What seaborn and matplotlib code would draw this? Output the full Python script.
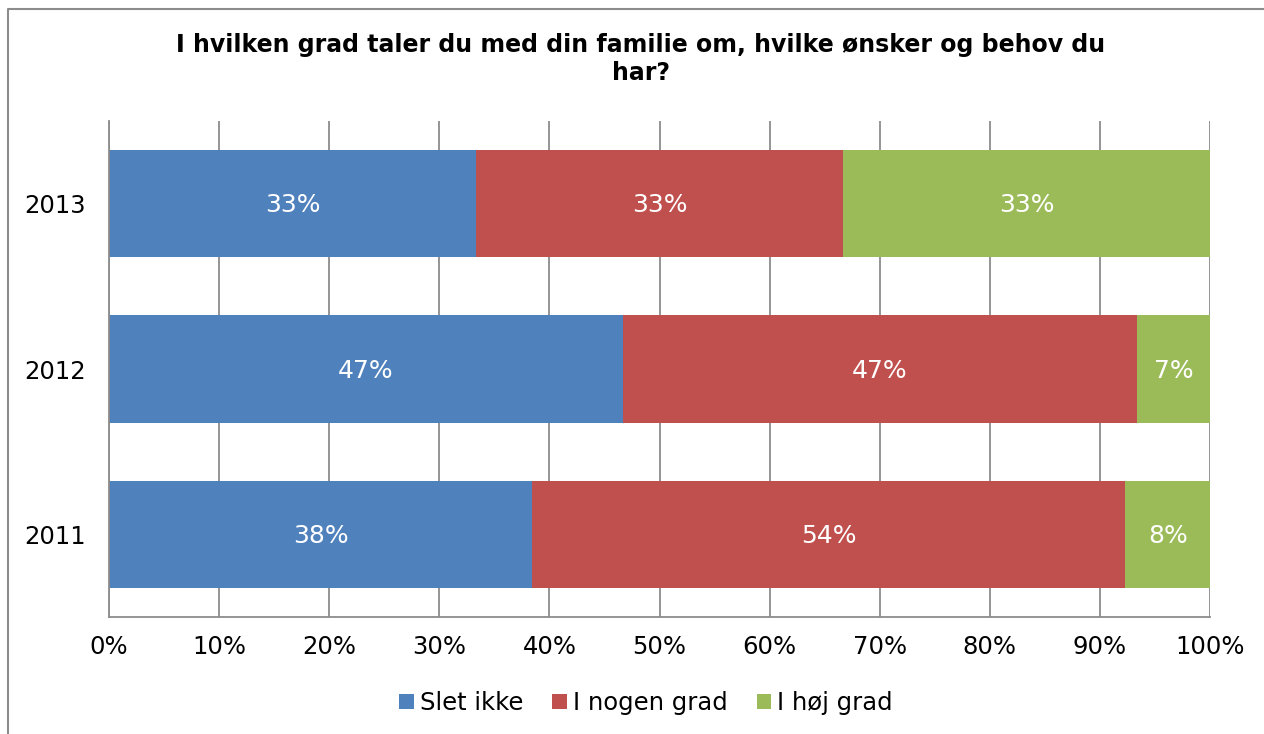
import matplotlib
matplotlib.use("Agg")
import matplotlib.pyplot as plt
from matplotlib.patches import Patch
from matplotlib.lines import Line2D
import seaborn as sns
import pandas as pd
import numpy as np

years = ["2013", "2012", "2011"]
series = ["Slet ikke", "I nogen grad", "I høj grad"]
slet_ikke = [33.33, 46.67, 38.46]
i_nogen_grad = [33.33, 46.67, 53.85]
i_hoej_grad = [33.33, 6.67, 7.69]
labels_slet = ["33%", "47%", "38%"]
labels_nogen = ["33%", "47%", "54%"]
labels_hoej = ["33%", "7%", "8%"]
xticks = [0, 10, 20, 30, 40, 50, 60, 70, 80, 90, 100]
xticklabels = ["0%", "10%", "20%", "30%", "40%", "50%", "60%", "70%", "80%", "90%", "100%"]
title = "I hvilken grad taler du med din familie om, hvilke ønsker og behov du\nhar?"

colors = ["#4F81BD", "#C0504D", "#9BBB59"]

sns.set_theme(style="white")
plt.rcParams['font.family'] = ['DejaVu Sans']
plt.rcParams['text.color'] = 'black'

vals = np.array([slet_ikke, i_nogen_grad, i_hoej_grad])
cum = np.cumsum(vals, axis=0)

fig = plt.figure(figsize=(12.64, 7.34), dpi=100)
ax = fig.add_axes([109/1264, 1-617/734, (1210-109)/1264, (617-121)/734])

# draw from largest cumulative to smallest so stacks appear
for i in [2, 1, 0]:
    df = pd.DataFrame({"year": years, "value": cum[i]})
    sns.barplot(data=df, x="value", y="year", order=years, color=colors[i],
                orient="h", width=0.65, ax=ax, saturation=1, edgecolor="none")

all_labels = [labels_slet, labels_nogen, labels_hoej]
for i in range(3):
    for j in range(3):
        start = cum[i][j] - vals[i][j]
        cx = start + vals[i][j] / 2
        ax.text(cx, j + 0.01, all_labels[i][j], ha="center", va="center",
                color="white", fontsize=18)

ax.set_xlim(0, 100)
ax.set_ylim(2.5, -0.5)
ax.set_xticks(xticks)
ax.set_xticklabels(xticklabels)
ax.set_xlabel("")
ax.set_ylabel("")
ax.tick_params(axis="both", length=0, labelsize=17.5, colors="black")
ax.tick_params(axis="x", pad=13)
ax.tick_params(axis="y", pad=17)
ax.xaxis.grid(True, color="#8C8C8C", linewidth=1.3)
ax.set_axisbelow(True)
for s in ["top", "right"]:
    ax.spines[s].set_visible(False)
for s in ["left", "bottom"]:
    ax.spines[s].set_visible(True)
    ax.spines[s].set_color("#8C8C8C")
    ax.spines[s].set_linewidth(1.3)

fig.text(641/1264, 1-59/734, title, ha="center", va="center",
         fontsize=17, fontweight="bold", linespacing=1.2, color="black")

handles = [Patch(facecolor=c, edgecolor="none") for c in colors]
leg = fig.legend(handles, series, loc="center", bbox_to_anchor=(646/1264, 1-703/734),
                 ncol=3, frameon=False, fontsize=17.5, handlelength=0.6, handleheight=0.6,
                 handletextpad=0.25, columnspacing=1.2)
for t in leg.get_texts():
    t.set_color("black")

# outer chart border (partly cropped)
fig.add_artist(Line2D([8/1264, 8/1264, 1.0], [0.0, 1-9/734, 1-9/734],
                      transform=fig.transFigure, color="#8C8C8C", linewidth=1.5))

fig.savefig("out.png", dpi=100, facecolor="white")
